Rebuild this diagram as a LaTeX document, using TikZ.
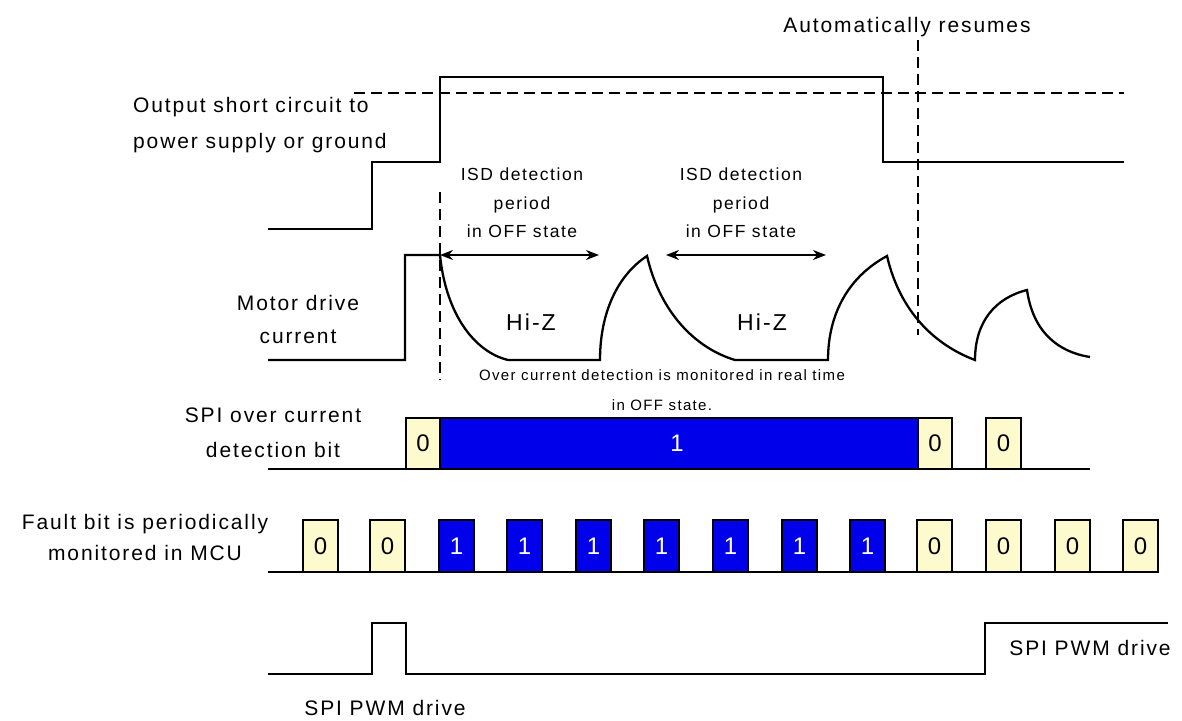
\documentclass[tikz,border=0pt]{standalone}
\usepackage{fontspec}
\setmainfont{Liberation Sans}[LetterSpace=9]
\usetikzlibrary{arrows.meta}
\definecolor{bitblue}{RGB}{0,0,235}
\definecolor{bitcream}{RGB}{253,251,205}
\newcommand\sigfont{\fontsize{21}{23}\selectfont}
\newcommand\isdfont{\fontsize{17.5}{28.5}\selectfont}
\newcommand\notefont{\fontsize{15}{30}\selectfont}
\newcommand\digfont{\fontsize{24}{26}\selectfont}
\begin{document}
\begin{tikzpicture}[x=1pt, y=-1pt, >={Stealth[length=13pt,width=10pt]}, every node/.style={inner sep=0pt, font=\sigfont},
  wave/.style={line width=2.3pt}, 
  guide/.style={line width=1.4pt, dash pattern=on 11pt off 6pt},
  zerobox/.style={draw=black, line width=1.5pt, fill=bitcream},
  onebox/.style={draw=black, line width=1.5pt, fill=bitblue}]
  \useasboundingbox (0,0) rectangle (1182,720);

  % ==================== ROW 1: SHORT CIRCUIT ====================
  \draw[guide] (354,93) -- (1124,93);
  \draw[wave] (268,229) -- (372,229) -- (372,162) -- (440,162) -- (440,77)
    -- (883,77) -- (883,162) -- (1124,162);
  \node[align=left, anchor=west, font=\fontsize{21}{36}\selectfont] (short) at (133,125)
    {Output short circuit to\\power supply or ground};

  % resume marker
  \node (resume) at (907,27) {Automatically resumes};
  \draw[guide] (918,40) -- (918,335);
  \draw[guide] (440,192) -- (440,380);

  % ISD periods
  \node[align=center, font=\isdfont] (isd1) at (522,203) {ISD detection\\period\\in OFF state};
  \node[align=center, font=\isdfont] (isd2) at (741,203) {ISD detection\\period\\in OFF state};
  \coordinate (p1l) at (440,255); \coordinate (p1r) at (599,255);
  \coordinate (p2l) at (666,255); \coordinate (p2r) at (826,255);
  \draw[<->, line width=1.6pt] (p1l) -- (p1r);
  \draw[<->, line width=1.6pt] (p2l) -- (p2r);

  % ==================== ROW 2: MOTOR CURRENT ====================
  \draw[wave] (268,360) -- (405,360) -- (405,255) -- (440,255)
    .. controls (446,315) and (475,352) .. (508,360) -- (600,360)
    .. controls (600,312) and (618,275) .. (647,256)
    .. controls (660,312) and (695,348) .. (735,360) -- (828,360)
    .. controls (828,312) and (850,276) .. (887,256)
    .. controls (900,312) and (935,345) .. (975,360)
    .. controls (975,322) and (995,298) .. (1027,290)
    .. controls (1033,332) and (1058,352) .. (1090,357);
  \node[align=center, font=\fontsize{21}{33}\selectfont] (motor) at (298,319) {Motor drive\\current};
  \node[font=\fontsize{23}{25}\selectfont] (hiz1) at (531,322) {Hi-Z};
  \node[font=\fontsize{23}{25}\selectfont] (hiz2) at (762,322) {Hi-Z};
  \node[align=center, font=\notefont] (note) at (662,390)
    {Over current detection is monitored in real time\\in OFF state.};

  % ==================== ROW 3: SPI OVER CURRENT BIT ====================
  \draw[wave] (268,469) -- (1090,469);
  \draw[zerobox] (406,418) rectangle (440,469);
  \draw[onebox] (440,418) rectangle (918,469);
  \draw[zerobox] (918,418) rectangle (952,469);
  \draw[zerobox] (986,418) rectangle (1021,469);
  \node (s0a) at (423,443) {\digfont 0};
  \node[text=white] (s1) at (677,443) {\digfont 1};
  \node (s0b) at (935,443) {\digfont 0};
  \node (s0c) at (1003.5,443) {\digfont 0};
  \node[align=center, font=\fontsize{21}{35}\selectfont] (spibit) at (273,433) {SPI over current\\detection bit};

  % ==================== ROW 4: FAULT BIT ====================
  \draw[wave] (268,572) -- (1158,572);
  \foreach \x [count=\i] in {303,370,917,986,1055,1123} {
    \draw[zerobox] (\x,520) rectangle +(35,52);
    \node (fz\i) at (\x+17.5,546) {\digfont 0};
  }
  \foreach \x [count=\i] in {439,507,576,644,713,782,850} {
    \draw[onebox] (\x,520) rectangle +(35,52);
    \node[text=white] (fo\i) at (\x+17.5,546) {\digfont 1};
  }
  \node[align=center, font=\fontsize{21}{31}\selectfont] (fault) at (145,537)
    {Fault bit is periodically\\monitored in MCU};

  % ==================== ROW 5: SPI PWM ====================
  \draw[line width=1.6pt] (268,674) -- (372,674) -- (372,623) -- (406,623) -- (406,674)
    -- (985,674) -- (985,623) -- (1168,623);
  \node (pwm1) at (385,708) {SPI PWM drive};
  \node (pwm2) at (1090,648) {SPI PWM drive};
\end{tikzpicture}
\end{document}
